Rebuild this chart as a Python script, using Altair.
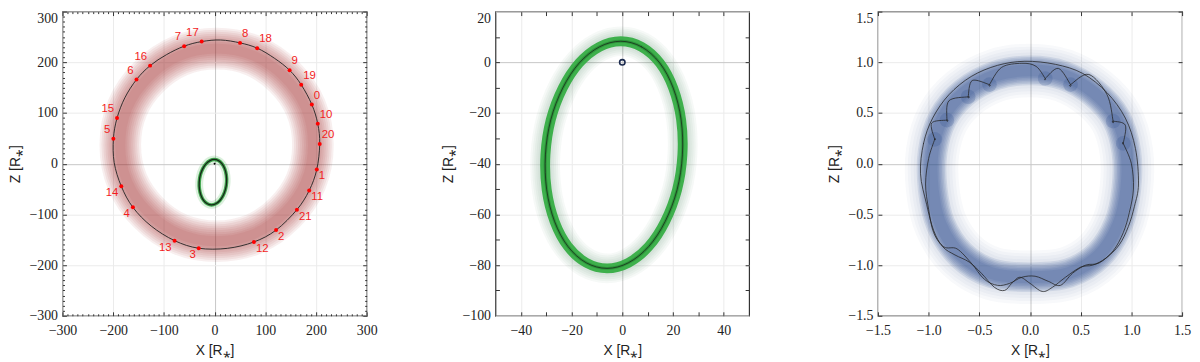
import altair as alt
import pandas as pd

# ---------------- data ----------------
# Panel 1: numbered epochs on the outer (red) orbit
dot_id = ["0", "10", "20", "1", "11", "21", "2", "12", "3", "13", "4",
          "14", "5", "15", "6", "16", "7", "17", "8", "18", "9", "19"]
dot_x = [191.8, 203.5, 207.4, 201.6, 186.6, 162.4, 121.3, 77.6, -31.3, -78.9, -161.1,
         -184.0, -199.6, -192.4, -154.0, -127.2, -60.0, -25.4, 50.2, 84.1, 148.0, 170.9]
dot_z = [116.7, 79.0, 38.7, -11.4, -53.0, -90.7, -131.0, -154.4, -166.8, -151.8, -86.1,
         -44.5, 49.1, 90.0, 166.0, 193.4, 231.8, 240.9, 238.3, 227.9, 184.3, 155.7]

# best-fit outer orbit (black line), clockwise from the top
orbit_x = [12, 50.2, 84.1, 118, 148.0, 170.9, 191.8, 203.5, 207.4, 201.6, 186.6, 162.4,
           121.3, 77.6, 25, -31.3, -78.9, -125, -161.1, -184.0, -198, -199.6, -192.4,
           -177, -154.0, -127.2, -95, -60.0, -25.4]
orbit_z = [244, 238.3, 227.9, 208, 184.3, 155.7, 116.7, 79.0, 38.7, -11.4, -53.0, -90.7,
           -131.0, -154.4, -167, -166.8, -151.8, -123, -86.1, -44.5, 2, 49.1, 90.0,
           130, 166.0, 193.4, 215, 231.8, 240.9]

# centre line of the red posterior band
band_x = [4, 77, 138, 180, 194, 180, 138, 77, 4, -69, -130, -172, -186, -172, -130, -69]
band_z = [227, 213, 171, 110, 37, -36, -97, -139, -153, -139, -97, -36, 37, 110, 171, 213]

# inner (green) orbit
inner_x = [-0.6, 7.6, 14.8, 20.1, 23.2, 23.7, 21.6, 16.9, 10.4, 2.4, -6.0, -14.2, -21.4,
           -26.7, -29.8, -30.3, -28.2, -23.5, -17.0, -9.0]
inner_z = [8.3, 6.1, -0.3, -10.2, -22.7, -36.5, -50.3, -62.8, -72.7, -79.1, -81.3, -79.1,
           -72.7, -62.8, -50.3, -36.5, -22.7, -10.2, -0.3, 6.1]

star_x = [0.0]
star_z = [0.0]

# Panel 3: blue band centre line
ring_x = [0.0, 0.33, 0.63, 0.85, 0.95, 0.95, 0.87, 0.68, 0.38, 0.0, -0.38, -0.68, -0.88,
          -0.96, -0.96, -0.86, -0.65, -0.34]
ring_z = [0.92, 0.87, 0.70, 0.45, 0.12, -0.25, -0.60, -0.90, -1.08, -1.12, -1.08, -0.90,
          -0.60, -0.25, 0.12, 0.45, 0.70, 0.87]

# Panel 3: black curves
curveA_x = [-1.08, -1.05, -0.96, -0.80, -0.58, -0.32, -0.05, 0.25, 0.52, 0.76, 0.94, 1.04,
            1.07, 1.03, 0.97, 0.88, 0.75, 0.62, 0.50, 0.35, 0.22, 0.12, 0.00, -0.10, -0.18,
            -0.25, -0.35, -0.48, -0.60, -0.74, -0.86, -0.95, -1.02]
curveA_z = [-0.10, 0.20, 0.45, 0.68, 0.86, 0.97, 1.01, 0.98, 0.89, 0.70, 0.45, 0.15,
            -0.20, -0.42, -0.62, -0.80, -0.93, -1.00, -1.02, -1.12, -1.22, -1.26, -1.18,
            -1.12, -1.18, -1.25, -1.22, -1.08, -0.97, -0.90, -0.82, -0.66, -0.40]

curveB_x = [-1.00, -0.94, -0.97, -0.82, -0.80, -0.61, -0.57, -0.40, -0.28, -0.08, 0.06,
            0.15, 0.28, 0.40, 0.58, 0.76, 0.82, 0.94, 0.92, 1.00, 1.02, 0.98, 0.92, 0.82,
            0.68, 0.55, 0.42, 0.30, 0.18, 0.05, -0.08, -0.20, -0.32, -0.45, -0.58, -0.72,
            -0.85, -0.95, -1.00, -1.03]
curveB_z = [0.05, 0.24, 0.40, 0.43, 0.62, 0.66, 0.82, 0.78, 0.95, 0.99, 0.96, 0.84, 0.94,
            0.78, 0.88, 0.68, 0.42, 0.38, 0.20, 0.00, -0.25, -0.48, -0.68, -0.86, -0.98,
            -1.00, -1.08, -1.20, -1.16, -1.11, -1.12, -1.18, -1.20, -1.14, -0.98, -0.84,
            -0.82, -0.68, -0.45, -0.20]

cusp_x = [-0.94, -0.82, -0.61, -0.40, 0.15, 0.40, 0.82, 0.92]
cusp_z = [0.24, 0.43, 0.66, 0.78, 0.84, 0.78, 0.42, 0.20]

# axis tick values
p1_labels = [-300, -200, -100, 0, 100, 200, 300]
p1_minor = [v for v in range(-290, 300, 10) if v % 100 != 0]
p2_xlabels = [-40, -20, 0, 20, 40]
p2_ylabels = [-100, -80, -60, -40, -20, 0, 20]
p2_xticks = [-40, -30, -20, -10, 0, 10, 20, 30, 40]
p2_yticks = [-90, -80, -70, -60, -50, -40, -30, -20, -10, 0, 10]
p3_labels = [-1.5, -1.0, -0.5, 0.0, 0.5, 1.0, 1.5]

# ---------------- helpers ----------------
SERIF = "Liberation Serif, Times New Roman, DejaVu Serif, serif"
SANS = "Liberation Sans, Arial, sans-serif"
GRIDC = {"condition": {"test": "datum.value === 0", "value": "#c6c6c6"}, "value": "#ebebeb"}
RED = "#a62e28"
GREEN = "#36ad45"
BLUE = "#2c4f8c"


def frame(xs, zs):
    return pd.DataFrame({"x": xs, "z": zs, "i": list(range(len(xs)))})


def cusped_frame(xs, zs, cx, cz):
    # repeat each cusp point so the smooth curve turns sharply there
    px, pz = [], []
    cusps = set(zip(cx, cz))
    for a, b in zip(xs, zs):
        px.append(a)
        pz.append(b)
        if (a, b) in cusps:
            px.append(a)
            pz.append(b)
    return frame(px, pz)


def xy(sx, sy):
    return dict(x=alt.X("x:Q", scale=sx, axis=None), y=alt.Y("z:Q", scale=sy, axis=None))


def closed_line(df, sx, sy, width, color, opacity):
    return alt.Chart(df).mark_line(
        interpolate="cardinal-closed", strokeWidth=width, color=color, opacity=opacity,
        strokeCap="round", strokeJoin="round"
    ).encode(order="i:Q", **xy(sx, sy))


def axis_layers(df, sx, sy, xlab, ylab, xt, yt, xm, ym, fmt, ymax):
    def holder(ax, ay):
        return alt.Chart(df).mark_point(opacity=0, size=1).encode(
            x=alt.X("x:Q", scale=sx, axis=ax), y=alt.Y("z:Q", scale=sy, axis=ay))

    lab = holder(
        alt.Axis(orient="bottom", values=xlab, format=fmt, ticks=False, tickSize=0,
                 domain=False, grid=True, gridColor=GRIDC, gridWidth=1,
                 labelFont=SERIF, labelFontSize=14, labelColor="#222", labelPadding=8,
                 labelFlush=False, labelOverlap=False,
                 title="X [R⁎]", titleFont=SANS, titleFontSize=14,
                 titleFontWeight="normal", titleColor="#222", titlePadding=6),
        alt.Axis(orient="left", values=ylab, format=fmt, ticks=False, tickSize=0,
                 domain=False, grid=True, gridColor=GRIDC, gridWidth=1,
                 labelFont=SERIF, labelFontSize=14, labelColor="#222", labelPadding=5,
                 labelFlush=False, labelOverlap=False,
                 labelBaseline={"condition": {"test": f"datum.value >= {ymax}", "value": "top"},
                                "value": "middle"},
                 title="Z [R⁎]", titleFont=SANS, titleFontSize=14,
                 titleFontWeight="normal", titleColor="#222", titlePadding=6),
    )
    out = [lab]

    def ticks(ox, oy, xv, yv, size):
        return holder(
            alt.Axis(orient=ox, values=xv, offset=-size, tickSize=size, tickColor="#333",
                     tickWidth=1, labels=False, domain=False, grid=False, title=None),
            alt.Axis(orient=oy, values=yv, offset=-size, tickSize=size, tickColor="#333",
                     tickWidth=1, labels=False, domain=False, grid=False, title=None),
        )

    out.append(ticks("bottom", "left", xt, yt, 4))
    out.append(ticks("top", "right", xt, yt, 4))
    if xm:
        out.append(ticks("bottom", "left", xm, ym, 2))
        out.append(ticks("top", "right", xm, ym, 2))
    return out


# ---------------- panel 1 ----------------
s1x = alt.Scale(domain=[-300, 300], nice=False, zero=False)
s1y = alt.Scale(domain=[-300, 300], nice=False, zero=False)

band_df = frame(band_x, band_z)
orbit_df = frame(orbit_x, orbit_z)
inner_df = frame(inner_x, inner_z)
dots_df = pd.DataFrame({"x": dot_x, "z": dot_z, "id": dot_id})
star_df = frame(star_x, star_z)

p1_layers = axis_layers(band_df, s1x, s1y, p1_labels, p1_labels, p1_labels, p1_labels,
                        p1_minor, p1_minor, "d", 300)
for w in [42, 38, 34, 30, 26, 22, 18, 14, 10]:
    p1_layers.append(closed_line(band_df, s1x, s1y, w, RED, 0.075))
p1_layers.append(closed_line(orbit_df, s1x, s1y, 1.0, "#222", 0.9))
p1_layers.append(closed_line(inner_df, s1x, s1y, 8, GREEN, 0.18))
p1_layers.append(closed_line(inner_df, s1x, s1y, 3.5, "#2c9a3b", 0.9))
p1_layers.append(closed_line(inner_df, s1x, s1y, 1.3, "#111", 0.85))
p1_layers.append(alt.Chart(star_df).mark_circle(size=4, color="#000", opacity=1).encode(**xy(s1x, s1y)))
p1_layers.append(alt.Chart(dots_df).mark_circle(size=16, color="#ff0000", opacity=1).encode(**xy(s1x, s1y)))

label_cases = [
    ("datum.x >= 0 && datum.z > 30", "left", 2, -9),
    ("datum.x >= 0 && datum.z <= 30", "left", 2, 7),
    ("datum.x < 0 && datum.z > 30", "right", -3, -9),
    ("datum.x < 0 && datum.z <= 30", "right", -3, 7),
]
for test, al, dx, dy in label_cases:
    p1_layers.append(
        alt.Chart(dots_df).transform_filter(test).mark_text(
            align=al, baseline="middle", dx=dx, dy=dy, font=SANS, fontSize=11.5, color="#f21d1d"
        ).encode(text="id:N", **xy(s1x, s1y))
    )

p1 = alt.layer(*p1_layers).resolve_axis(x="independent", y="independent").properties(width=307, height=307)

# ---------------- panel 2 ----------------
s2x = alt.Scale(domain=[-50, 50], nice=False, zero=False)
s2y = alt.Scale(domain=[-100, 20], nice=False, zero=False)
p2_layers = axis_layers(inner_df, s2x, s2y, p2_xlabels, p2_ylabels, p2_xticks, p2_yticks,
                        None, None, "d", 20)
for w in [30, 26, 22, 18, 14]:
    p2_layers.append(closed_line(inner_df, s2x, s2y, w, "#2f6e3a", 0.045))
p2_layers.append(closed_line(inner_df, s2x, s2y, 10, GREEN, 0.95))
p2_layers.append(closed_line(inner_df, s2x, s2y, 3, "#23802f", 0.6))
p2_layers.append(closed_line(inner_df, s2x, s2y, 0.9, "#111", 0.7))
p2_layers.append(alt.Chart(star_df).mark_point(shape="circle", filled=False, size=30, strokeWidth=1.6,
                                               color="#1b2a4e", opacity=1).encode(**xy(s2x, s2y)))
p2 = alt.layer(*p2_layers).resolve_axis(x="independent", y="independent").properties(width=256, height=307)

# ---------------- panel 3 ----------------
s3x = alt.Scale(domain=[-1.5, 1.5], nice=False, zero=False)
s3y = alt.Scale(domain=[-1.5, 1.5], nice=False, zero=False)
ring_df = frame(ring_x, ring_z)
cA = frame(curveA_x, curveA_z)
cB = cusped_frame(curveB_x, curveB_z, cusp_x, cusp_z)
cusp_df = frame(cusp_x, cusp_z)
p3_layers = axis_layers(ring_df, s3x, s3y, p3_labels, p3_labels, p3_labels, p3_labels,
                        None, None, ".1f", 1.5)
for w in [54, 48, 42, 36]:
    p3_layers.append(closed_line(ring_df, s3x, s3y, w, BLUE, 0.03))
for w in [30, 27, 24, 21, 18, 15, 12]:
    p3_layers.append(closed_line(ring_df, s3x, s3y, w, BLUE, 0.125))
p3_layers.append(alt.Chart(cusp_df).mark_circle(size=220, color=BLUE, opacity=0.22).encode(**xy(s3x, s3y)))
p3_layers.append(closed_line(cA, s3x, s3y, 0.9, "#222", 0.85))
p3_layers.append(closed_line(cB, s3x, s3y, 0.9, "#222", 0.85))
p3 = alt.layer(*p3_layers).resolve_axis(x="independent", y="independent").properties(width=307, height=307)

chart = alt.hconcat(p1, p2, p3, spacing=130, bounds="flush").properties(
    padding={"left": 0, "top": 0, "right": 0, "bottom": 0}
).configure_view(stroke="#333", strokeWidth=1.2)

chart.save("out.html", embed_options={"renderer": "svg", "actions": False})
